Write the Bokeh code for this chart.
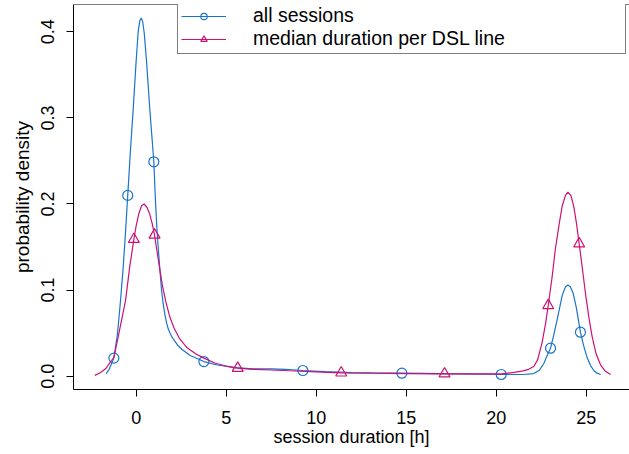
from bokeh.plotting import figure
from bokeh.models import Range1d, FixedTicker, Span, Legend, LegendItem, PrintfTickFormatter
from bokeh.embed import file_html
from bokeh.resources import INLINE

# ---- data ----
all_x = [-1.67, -1.5, -1.24, -1.04, -0.87, -0.72, -0.6, -0.47, -0.32, -0.17, 0.0, 0.11, 0.2, 0.28,
         0.36, 0.45, 0.57, 0.76, 0.98, 1.07, 1.16, 1.25, 1.33, 1.41, 1.5, 1.6, 1.7, 1.78, 1.9, 2.0,
         2.3, 2.55, 3.0, 3.76, 4.5, 5.5, 6.5, 7.5, 8.3, 9.26, 10.5, 12.0, 13.5, 14.76, 16.0, 17.5,
         19.0, 20.28, 21.5, 22.09, 22.4, 22.64, 22.85, 23.02, 23.2, 23.39, 23.55, 23.67, 23.85,
         23.98, 24.12, 24.28, 24.45, 24.68, 24.85, 25.06, 25.25, 25.42, 25.6, 25.8]
all_y = [0.003, 0.008, 0.021, 0.049, 0.088, 0.127, 0.165, 0.21, 0.262, 0.309, 0.367, 0.4, 0.413, 0.416,
         0.412, 0.398, 0.367, 0.309, 0.249, 0.204, 0.168, 0.142, 0.12, 0.1, 0.084, 0.071, 0.061, 0.055,
         0.049, 0.045, 0.036, 0.031, 0.024, 0.017, 0.013, 0.01, 0.0085, 0.0085, 0.008, 0.0066, 0.0052,
         0.0042, 0.0037, 0.0035, 0.0032, 0.0028, 0.0023, 0.002, 0.002, 0.003, 0.007, 0.0145, 0.025,
         0.0325, 0.048, 0.066, 0.082, 0.094, 0.104, 0.106, 0.104, 0.096, 0.08, 0.0511, 0.036, 0.021,
         0.012, 0.0066, 0.0035, 0.002]

med_x = [-2.3, -2.0, -1.7, -1.24, -0.97, -0.59, -0.36, -0.13, 0.0, 0.15, 0.3, 0.44, 0.6, 0.74, 0.88,
         1.02, 1.15, 1.29, 1.45, 1.63, 1.85, 2.1, 2.4, 2.83, 3.3, 3.76, 4.4, 5.0, 5.64, 6.5, 7.5, 8.5,
         10.0, 11.39, 13.0, 15.0, 17.13, 19.0, 20.3, 21.0, 21.5, 21.8, 22.09, 22.3, 22.55, 22.75, 22.89,
         23.1, 23.29, 23.5, 23.67, 23.85, 23.98, 24.15, 24.31, 24.45, 24.61, 24.8, 24.96, 25.15, 25.33,
         25.55, 25.79, 26.05, 26.35]
med_y = [0.001, 0.004, 0.0086, 0.022, 0.049, 0.088, 0.127, 0.159, 0.175, 0.189, 0.198, 0.2, 0.196,
         0.189, 0.178, 0.164, 0.146, 0.127, 0.106, 0.088, 0.07, 0.056, 0.044, 0.033, 0.026, 0.021,
         0.015, 0.0118, 0.0093, 0.008, 0.0072, 0.0063, 0.005, 0.0039, 0.0035, 0.0031, 0.0028, 0.0026,
         0.0028, 0.0045, 0.0062, 0.008, 0.0113, 0.019, 0.039, 0.062, 0.0821, 0.114, 0.148, 0.177,
         0.198, 0.21, 0.2137, 0.21, 0.197, 0.179, 0.1538, 0.123, 0.096, 0.068, 0.046, 0.026, 0.0135,
         0.006, 0.002]

all_mark_x = [-1.24, -0.47, 0.98, 3.76, 9.26, 14.76, 20.28, 23.02, 24.68]
all_mark_y = [0.021, 0.21, 0.249, 0.017, 0.0066, 0.0035, 0.002, 0.0325, 0.0511]
med_mark_x = [-0.13, 1.02, 5.64, 11.39, 17.13, 22.89, 24.61]
med_mark_y = [0.159, 0.164, 0.0093, 0.0039, 0.0028, 0.0821, 0.1538]

x_ticks = [0, 5, 10, 15, 20, 25]
y_ticks = [0.0, 0.1, 0.2, 0.3, 0.4]
series_labels = ["all sessions", "median duration per DSL line"]
x_title = "session duration [h]"
y_title = "probability density"

BLUE = "#1874CD"
PINK = "#CD1076"
FONT = "Liberation Sans"

p = figure(width=629, height=454, output_backend="svg", toolbar_location=None,
           x_range=Range1d(-3.483, 27.406), y_range=Range1d(-0.01545, 0.4317),
           min_border_left=73, min_border_right=0, min_border_top=4, min_border_bottom=65)
p.outline_line_color = None
p.grid.visible = False
p.background_fill_color = "white"
p.border_fill_color = "white"

for ax in (p.xaxis[0], p.yaxis[0]):
    ax.axis_line_color = "black"
    ax.axis_line_width = 1
    ax.major_tick_line_color = "black"
    ax.major_tick_out = 7
    ax.major_tick_in = 0
    ax.minor_tick_line_color = None
    ax.major_label_text_font = FONT
    ax.major_label_text_font_size = "18px"
    ax.major_label_text_color = "black"
    ax.axis_label_text_font = FONT
    ax.axis_label_text_font_style = "normal"
    ax.axis_label_text_color = "black"

p.xaxis[0].axis_label_text_font_size = "18px"
p.yaxis[0].axis_label_text_font_size = "19px"
p.xaxis[0].ticker = FixedTicker(ticks=x_ticks)
p.yaxis[0].ticker = FixedTicker(ticks=y_ticks)
p.yaxis[0].formatter = PrintfTickFormatter(format="%.1f")
p.yaxis[0].major_label_orientation = "vertical"
p.xaxis[0].axis_label = x_title
p.yaxis[0].axis_label = y_title
p.xaxis[0].major_label_standoff = 14
p.xaxis[0].axis_label_standoff = 0
p.yaxis[0].major_label_standoff = 12
p.yaxis[0].axis_label_standoff = 6

# top edge of box
p.add_layout(Span(location=p.y_range.end, dimension="width", line_color="black", line_width=1))

l1 = p.line(all_x, all_y, line_color=BLUE, line_width=1.2)
m1 = p.scatter(all_mark_x, all_mark_y, marker="circle", size=10, fill_color=None,
               line_color=BLUE, line_width=1.2)
l2 = p.line(med_x, med_y, line_color=PINK, line_width=1.2)
m2 = p.scatter(med_mark_x, med_mark_y, marker="triangle", size=11, fill_color=None,
               line_color=PINK, line_width=1.2)

legend = Legend(items=[LegendItem(label=series_labels[0], renderers=[l1, m1]),
                       LegendItem(label=series_labels[1], renderers=[l2, m2])],
                location=(104, 335))
legend.border_line_color = "black"
legend.border_line_width = 1
legend.background_fill_color = "white"
legend.background_fill_alpha = 1
legend.padding = 3
legend.spacing = 0
legend.margin = 0
legend.glyph_width = 45
legend.glyph_height = 16
legend.label_height = 16
legend.label_standoff = 27
legend.label_width = 369
legend.label_text_font = FONT
legend.label_text_font_size = "19.5px"
legend.label_text_line_height = 1.0
legend.label_text_color = "black"
p.add_layout(legend)

open("out.html", "w").write(file_html(p, INLINE))
